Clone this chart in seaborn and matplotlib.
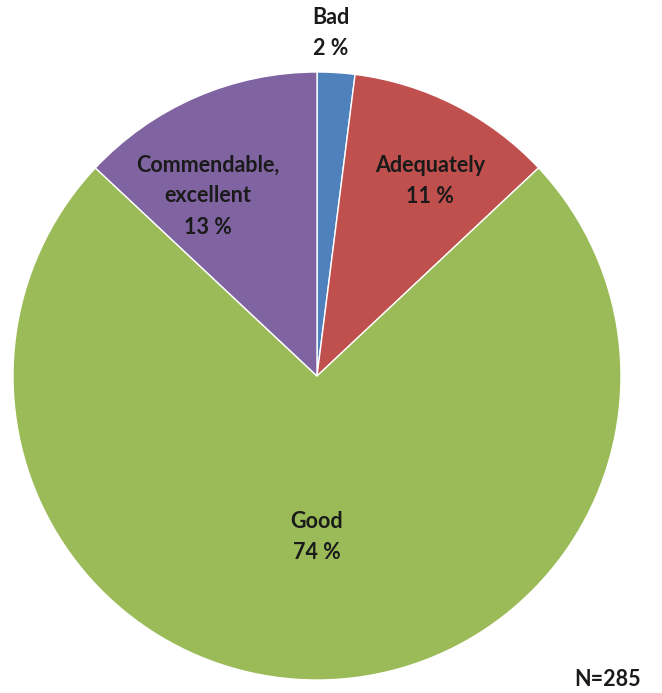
import matplotlib.pyplot as plt
import seaborn as sns

# survey answers, clockwise from 12 o'clock
categories = ['Bad', 'Adequately', 'Good', 'Commendable,\nexcellent']
shares = [2, 11, 74, 13]
colors = ['#4F81BD', '#C0504D', '#9BBB59', '#8064A2']
n_total = 285

sns.set_theme(style='white')
plt.rcParams['font.family'] = ['Lato', 'DejaVu Sans']

fig = plt.figure(figsize=(6.62, 6.93), dpi=100)
ax = fig.add_axes([0, 0, 1, 1])

cx, cy, r = 317, 693 - 376, 304
ax.pie(shares, colors=colors, startangle=90, counterclock=False,
       center=(cx, cy), radius=r,
       wedgeprops=dict(edgecolor='white', linewidth=1))

# axes in pixel units, y counted from the bottom (set after pie, which resets them)
ax.set_xlim(0, 662)
ax.set_ylim(0, 693)
ax.set_aspect('equal')
ax.axis('off')

# label spots (pixels from top-left)
label_pos = [(331, 33), (430, 181), (317, 537), (208, 196)]
txt_kw = dict(ha='center', va='center', fontsize=15.5, fontweight='bold',
              color='#1a1a1a', linespacing=1.6)
for cat, val, (x, y) in zip(categories, shares, label_pos):
    ax.text(x, 693 - y, f'{cat}\n{val} %', **txt_kw)

ax.text(608, 693 - 680, f'N={n_total}', **txt_kw)

fig.savefig('out.png', dpi=100)
